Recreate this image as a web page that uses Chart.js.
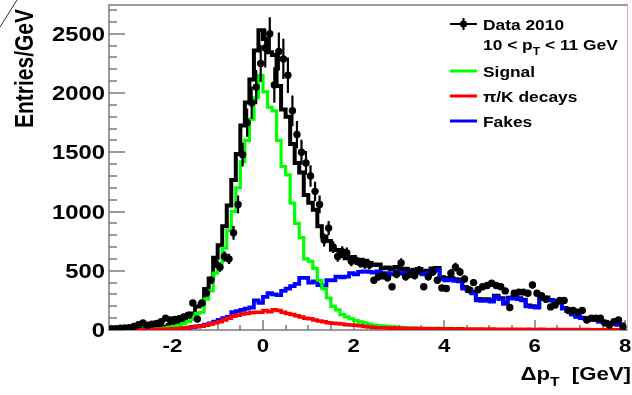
<!DOCTYPE html>
<html>
<head>
<meta charset="utf-8">
<script src="https://cdn.jsdelivr.net/npm/chart.js@4/dist/chart.umd.min.js"></script>
<style>
  html, body { margin: 0; background: #fff; }
  #wrap { width: 632px; height: 395px; position: relative; }
</style>
</head>
<body>
<div id="wrap"><canvas id="plot" width="632" height="395"></canvas></div>
<script>
// histogram binning: 114 bins of 0.1 GeV starting at -3.4
const binLow = -3.4;
const binWidth = 0.1;

// measured data (entries/GeV) and its error bars
const dataValues = [
  10, 12, 15, 17, 20, 30, 45, 60, 40, 50,
  55, 70, 100, 85, 90, 95, 110, 125, 228, 93,
  228, 310, 420, 565, 530, 620, 600, 820, 1060, 1480,
  1750, 1917, 2050, 2250, 2380, 2500, 2068, 2350, 2288, 2150,
  1850, 1650, 1500, 1410, 1300, 1170, 1060, 760, 860, 700,
  620, 660, 650, 580, 590, 565, 555, 550, 420, 450,
  460, 440, 365, 470, 565, 450, 470, 460, 505, 365,
  450, 490, 420, 355, 350, 480, 530, 490, 430, 340,
  400, 340, 365, 375, 395, 375, 365, 330, 190, 310,
  320, 320, 310, 380, 310, 290, 260, 195, 210, 250,
  250, 165, 165, 150, 165, 85, 100, 100, 100, 60,
  42, 70, 85, 25
];
const dataErrors = [
  6, 6, 6, 6, 6, 7, 8, 8, 7, 8,
  8, 9, 10, 9, 9, 10, 11, 12, 18, 10,
  18, 24, 30, 40, 38, 44, 43, 58, 75, 100,
  120, 135, 145, 155, 165, 140, 150, 160, 170, 150,
  130, 115, 105, 100, 90, 82, 75, 55, 60, 50,
  45, 47, 46, 41, 42, 40, 39, 39, 30, 32,
  33, 31, 26, 33, 40, 32, 33, 33, 36, 26,
  32, 35, 30, 25, 25, 34, 37, 35, 30, 24,
  28, 24, 26, 27, 28, 27, 26, 24, 14, 22,
  23, 23, 22, 27, 22, 21, 19, 14, 15, 18,
  18, 12, 12, 11, 12, 9, 10, 10, 10, 8,
  7, 8, 9, 6
];

// simulated components
const signal = [
  0, 0, 1, 1, 2, 2, 3, 4, 5, 6,
  8, 10, 12, 15, 25, 30, 40, 55, 70, 90,
  140, 150, 260, 330, 480, 560, 690, 840, 1000, 1200,
  1420, 1600, 1780, 1960, 2150, 2010, 1880, 1850, 1600, 1380,
  1310, 1070, 900, 780, 600, 580, 520, 420, 350, 270,
  200, 170, 130, 110, 95, 80, 68, 60, 50, 42,
  38, 34, 30, 28, 25, 22, 18, 15, 14, 12,
  10, 9, 8, 6, 5, 5, 4, 4, 4, 3,
  3, 3, 3, 2, 2, 2, 2, 2, 1, 1,
  1, 1, 1, 1, 1, 1, 1, 0, 0, 0,
  0, 0, 0, 0, 0, 0, 0, 0, 0, 0,
  0, 0, 0, 0
];
const decays = [
  0, 0, 1, 1, 1, 2, 2, 3, 3, 4,
  5, 5, 6, 7, 8, 10, 12, 15, 20, 25,
  28, 32, 40, 50, 60, 70, 85, 100, 115, 125,
  135, 140, 145, 150, 150, 165, 155, 170, 165, 150,
  140, 130, 120, 110, 100, 95, 85, 75, 70, 62,
  58, 55, 50, 45, 42, 40, 35, 30, 25, 22,
  20, 18, 17, 15, 16, 14, 15, 13, 14, 12,
  13, 12, 11, 12, 10, 11, 10, 9, 10, 9,
  9, 8, 9, 8, 7, 8, 7, 7, 6, 7,
  6, 6, 5, 6, 5, 5, 6, 5, 4, 5,
  4, 5, 4, 4, 3, 4, 4, 3, 3, 3,
  3, 2, 3, 2
];
const fakes = [
  0, 0, 0, 0, 2, 2, 3, 3, 4, 5,
  5, 6, 7, 8, 10, 12, 14, 17, 20, 25,
  30, 35, 45, 55, 70, 85, 100, 110, 150, 160,
  170, 180, 190, 250, 230, 280, 310, 300, 295, 330,
  350, 370, 390, 440, 440, 400, 410, 380, 370, 420,
  420, 450, 445, 450, 480, 470, 490, 495, 490, 485,
  495, 470, 480, 470, 490, 475, 485, 470, 480, 490,
  470, 480, 500, 505, 430, 420, 425, 415, 410, 350,
  330, 310, 250, 245, 250, 240, 280, 260, 220, 265,
  270, 260, 250, 200, 195, 190, 260, 270, 250, 240,
  230, 180, 160, 130, 110, 100, 95, 90, 85, 70,
  65, 55, 50, 45
];

const yTickLabels = [0, 500, 1000, 1500, 2000, 2500];
const xTickLabels = [-2, 0, 2, 4, 6, 8];
const legendLabels = ['Data 2010', 'Signal', 'π/K decays', 'Fakes'];

const xMin = -3.4, xMax = 8.06, yMax = 2743;

// total simulation = sum of the three components
const total = signal.map((s, i) => s + decays[i] + fakes[i]);

const centers = dataValues.map((_, i) => +(binLow + (i + 0.5) * binWidth).toFixed(3));
const toSteps = arr => {
  const pts = arr.map((v, i) => ({ x: +(binLow + i * binWidth).toFixed(3), y: v }));
  pts.push({ x: +(binLow + arr.length * binWidth).toFixed(3), y: arr[arr.length - 1] });
  return pts;
};

const FONT = '"Liberation Sans", Arial, Helvetica, sans-serif';

// draw (optionally subscripted) text with a horizontal stretch like the original
function richText(ctx, parts, x, y, size, align, sx) {
  ctx.save();
  ctx.textBaseline = 'alphabetic';
  ctx.textAlign = 'left';
  let w = 0;
  for (const p of parts) {
    ctx.font = 'bold ' + (p.sub ? size * 0.7 : size) + 'px ' + FONT;
    w += ctx.measureText(p.t).width * sx;
  }
  let cx = align === 'right' ? x - w : align === 'center' ? x - w / 2 : x;
  for (const p of parts) {
    const s = p.sub ? size * 0.7 : size;
    ctx.font = 'bold ' + s + 'px ' + FONT;
    ctx.save();
    ctx.translate(cx, y + (p.sub ? size * 0.3 : 0));
    ctx.scale(sx, 1);
    ctx.fillText(p.t, 0, 0);
    ctx.restore();
    cx += ctx.measureText(p.t).width * sx;
  }
  ctx.restore();
}

const rootStyle = {
  id: 'rootStyle',
  beforeDatasetsDraw(chart) {
    const { ctx, chartArea: a, scales: { x, y } } = chart;
    ctx.save();
    ctx.strokeStyle = '#9a9a9a';
    ctx.lineWidth = 2;
    ctx.beginPath();
    ctx.moveTo(a.right, a.bottom);
    ctx.lineTo(a.left, a.bottom);
    ctx.lineTo(a.left, a.top);
    ctx.lineTo(a.right, a.top);
    ctx.stroke();
    ctx.strokeStyle = '#e8a8a8';
    ctx.lineWidth = 1;
    ctx.beginPath();
    ctx.moveTo(a.right - 0.5, a.top);
    ctx.lineTo(a.right - 0.5, a.bottom);
    ctx.stroke();

    ctx.strokeStyle = '#7a7a7a';
    ctx.lineWidth = 1.5;
    ctx.beginPath();
    for (let v = 0; v <= yMax; v += 100) {
      const p = Math.round(y.getPixelForValue(v));
      const len = v % 500 === 0 ? 16 : 8;
      ctx.moveTo(a.left, p);
      ctx.lineTo(a.left + len, p);
    }
    for (let k = -6; k <= 16; k++) {
      const v = k / 2;
      const p = Math.round(x.getPixelForValue(v));
      const len = k % 4 === 0 ? 10 : 5;
      ctx.moveTo(p, a.bottom);
      ctx.lineTo(p, a.bottom - len);
    }
    ctx.stroke();
    ctx.restore();
  },
  afterDatasetsDraw(chart) {
    const { ctx, scales: { x, y } } = chart;
    ctx.save();
    ctx.strokeStyle = '#000';
    ctx.lineWidth = 2.2;
    ctx.beginPath();
    dataValues.forEach((v, i) => {
      const px = x.getPixelForValue(centers[i]);
      ctx.moveTo(px, y.getPixelForValue(v - dataErrors[i]));
      ctx.lineTo(px, y.getPixelForValue(v + dataErrors[i]));
    });
    ctx.stroke();
    ctx.restore();
  },
  afterDraw(chart) {
    const { ctx, chartArea: a, scales: { x, y } } = chart;
    ctx.save();
    ctx.fillStyle = '#000';

    // tick labels
    yTickLabels.forEach(v => {
      richText(ctx, [{ t: String(v) }], a.left - 4, y.getPixelForValue(v) + 7, 19.5, 'right', 1.22);
    });
    xTickLabels.forEach(v => {
      richText(ctx, [{ t: String(v) }], x.getPixelForValue(v), 352, 18.5, 'center', 1.2);
    });

    // axis titles
    richText(ctx, [{ t: 'Δp' }, { t: 'T', sub: true }, { t: '  [GeV]' }], 631, 380, 18.5, 'right', 1.2);
    ctx.save();
    ctx.translate(33, 128);
    ctx.rotate(-Math.PI / 2);
    ctx.scale(1, 1.2);
    ctx.font = 'bold 21px ' + FONT;
    ctx.textAlign = 'left';
    ctx.textBaseline = 'alphabetic';
    ctx.fillText('Entries/GeV', 0, 0);
    ctx.restore();

    // legend
    const lx0 = 450, lx1 = 477, tx = 483;
    ctx.strokeStyle = '#000';
    ctx.lineWidth = 2;
    ctx.beginPath();
    ctx.moveTo(lx0, 24); ctx.lineTo(lx1, 24);
    ctx.moveTo(463.5, 18); ctx.lineTo(463.5, 30);
    ctx.stroke();
    ctx.beginPath();
    ctx.arc(463.5, 24, 3.6, 0, Math.PI * 2);
    ctx.fill();
    richText(ctx, [{ t: legendLabels[0] }], tx, 29.5, 15.5, 'left', 1.12);
    richText(ctx, [{ t: '10 < p' }, { t: 'T', sub: true }, { t: ' < 11 GeV' }], tx, 50, 15.5, 'left', 1.12);
    const items = [
      { label: legendLabels[1], color: '#00ff00', y: 71 },
      { label: legendLabels[2], color: '#ff0000', y: 96 },
      { label: legendLabels[3], color: '#0000ff', y: 121 }
    ];
    ctx.lineWidth = 3;
    items.forEach(it => {
      ctx.strokeStyle = it.color;
      ctx.beginPath();
      ctx.moveTo(lx0, it.y); ctx.lineTo(lx1, it.y);
      ctx.stroke();
      richText(ctx, [{ t: it.label }], tx, it.y + 5.5, 15.5, 'left', 1.12);
    });

    // stray frame corner in the top-left of the original picture
    ctx.strokeStyle = '#333';
    ctx.lineWidth = 1;
    ctx.beginPath();
    ctx.moveTo(0, 27); ctx.lineTo(17, 0);
    ctx.stroke();
    ctx.restore();
  }
};

const stepLine = (label, arr, color, width, order) => ({
  type: 'line',
  label,
  data: toSteps(arr),
  borderColor: color,
  borderWidth: width,
  stepped: 'after',
  pointRadius: 0,
  fill: false,
  order
});

new Chart(document.getElementById('plot').getContext('2d'), {
  type: 'line',
  data: {
    datasets: [
      {
        type: 'scatter',
        label: legendLabels[0],
        data: dataValues.map((v, i) => ({ x: centers[i], y: v })),
        backgroundColor: '#000',
        borderWidth: 0,
        pointRadius: 3.7,
        showLine: false,
        order: 0
      },
      stepLine(legendLabels[2], decays, '#ff0000', 3.5, 1),
      stepLine(legendLabels[1], signal, '#00ff00', 3.2, 2),
      stepLine(legendLabels[3], fakes, '#0000ff', 3.8, 3),
      stepLine('Total', total, '#000000', 4, 4)
    ]
  },
  options: {
    responsive: false,
    animation: false,
    layout: { padding: { left: 109, right: 1, top: 5, bottom: 65 } },
    plugins: { legend: { display: false }, tooltip: { enabled: false } },
    scales: {
      x: { type: 'linear', display: false, min: xMin, max: xMax },
      y: { type: 'linear', display: false, min: 0, max: yMax }
    }
  },
  plugins: [rootStyle]
});
</script>
</body>
</html>
